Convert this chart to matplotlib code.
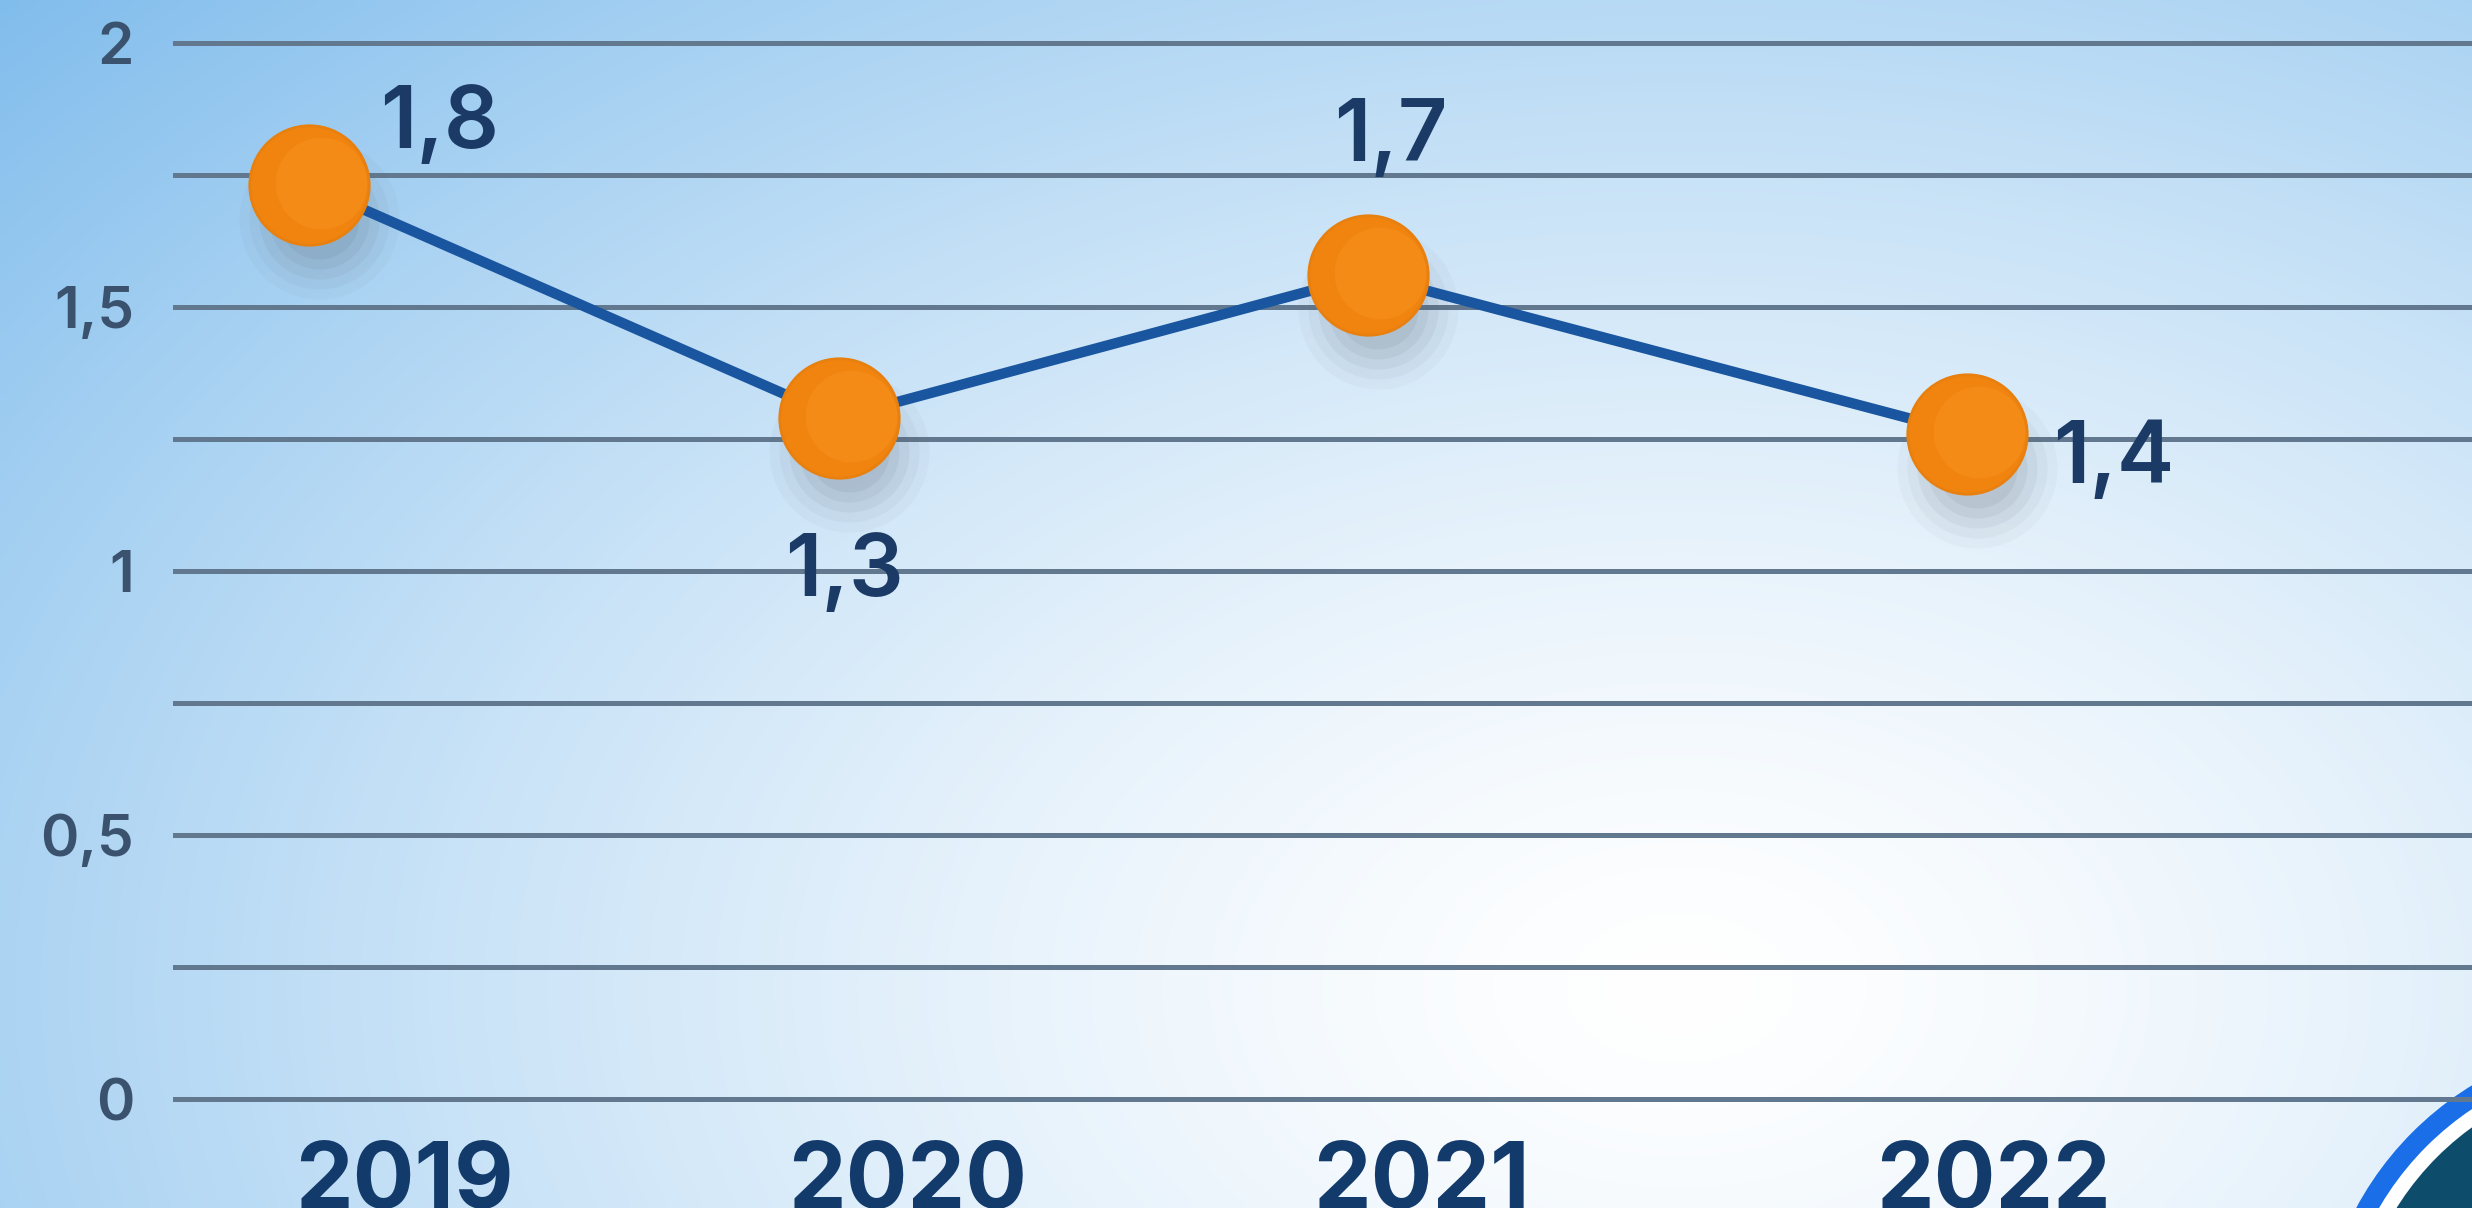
import matplotlib.pyplot as plt
import numpy as np
from matplotlib.patches import Circle
from matplotlib import transforms

# data
years = ['2019', '2020', '2021', '2022']
point_x = [0.0, 1.0, 2.0, 3.13]
year_x = [0.18, 1.13, 2.1, 3.18]
values = [1.73, 1.29, 1.56, 1.26]
value_labels = ['1,8', '1,3', '1,7', '1,4']
label_offsets = [(131, 60), (6, -156), (22, 137), (147, -27)]
y_ticks = [0, 0.5, 1, 1.5, 2]
y_tick_labels = ['0', '0,5', '1', '1,5', '2']
grid_levels = [0, 0.25, 0.5, 0.75, 1, 1.25, 1.5, 1.75, 2]

W, H = 2472, 1208
fig = plt.figure(figsize=(W / 100, H / 100), dpi=100)

# background gradient
bg = fig.add_axes([0, 0, 1, 1])
xx, yy = np.meshgrid(np.linspace(0, 1, 400), np.linspace(0, 1, 200))
d = np.sqrt(((xx - 0.68) / 0.75) ** 2 + ((yy - 0.82) / 1.0) ** 2)
t = np.clip(d / 1.25, 0, 1) ** 1.4
edge = np.array([0x7d, 0xbb, 0xec]) / 255
white = np.array([1.0, 1.0, 1.0])
img = white[None, None, :] * (1 - t[..., None]) + edge[None, None, :] * t[..., None]
bg.imshow(img, extent=[0, W, H, 0], aspect='auto', interpolation='bicubic')
bg.set_xlim(0, W)
bg.set_ylim(H, 0)
bg.add_patch(Circle((2640, 1360), 322, color='#1a6fe8', lw=0))
bg.add_patch(Circle((2640, 1360), 302, color='white', lw=0))
bg.add_patch(Circle((2640, 1360), 287, color='#0e4c6c', lw=0))
bg.axis('off')

ax = fig.add_axes([0.07, 0, 0.93, 1])
ax.patch.set_alpha(0)
ax.set_xlim(-0.256, 4.083)
ax.set_ylim(-0.206, 2.081)

for g in grid_levels:
    ax.axhline(g, color='#62788e', lw=3.6, zorder=1)

ax.plot(point_x, values, color='#1a56a0', lw=7.5, zorder=3, solid_capstyle='round')

# soft shadows under the balls
for r, a in [(160, 0.04), (140, 0.05), (120, 0.07), (100, 0.08), (80, 0.09)]:
    tr = transforms.offset_copy(ax.transData, fig=fig, x=10, y=-34, units='dots')
    ax.plot(point_x, values, 'o', ms=r * 0.72, color='#59626e', alpha=a,
            mec='none', transform=tr, zorder=2)

ax.plot(point_x, values, 'o', ms=86, color='#f0840f', mec='#e8800f', mew=2, zorder=4)
tr_hl = transforms.offset_copy(ax.transData, fig=fig, x=12, y=2, units='dots')
ax.plot(point_x, values, 'o', ms=66, color='#fb9522', mec='none', alpha=0.45,
        transform=tr_hl, zorder=5)

for x, y, lab, off in zip(point_x, values, value_labels, label_offsets):
    ax.annotate(lab, (x, y), xytext=off, textcoords='offset pixels',
                ha='center', va='center', fontsize=62, fontweight='semibold',
                color='#1b3a66', family=['Inter', 'DejaVu Sans'], zorder=6)

for x, lab in zip(year_x, years):
    ax.text(x, -0.16, lab, ha='center', va='center', fontsize=66,
            fontweight='bold', color='#123a6b', family=['Inter', 'DejaVu Sans'])

ax.set_yticks(y_ticks)
ax.set_yticklabels(y_tick_labels, fontsize=42, color='#3a526d',
                   family=['Inter', 'DejaVu Sans'], fontweight='semibold')
ax.tick_params(axis='y', length=0, pad=28)
ax.set_xticks([])
for s in ax.spines.values():
    s.set_visible(False)

fig.savefig('out.png', dpi=100)
